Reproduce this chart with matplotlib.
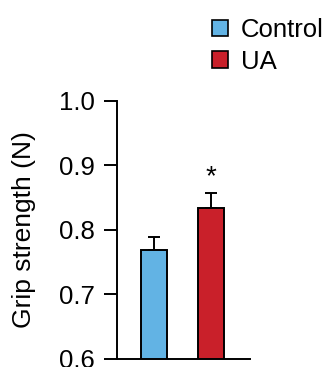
import matplotlib
matplotlib.use("Agg")
import matplotlib.pyplot as plt
from matplotlib.patches import Patch

# Dane
groups = ['Control', 'UA']
means = [0.769, 0.834]
errors = [0.020, 0.023]
colors = ['#62b3e4', '#c9202a']
y_ticks = [0.6, 0.7, 0.8, 0.9, 1.0]

plt.rcParams['font.family'] = ['Liberation Sans', 'DejaVu Sans']

fig = plt.figure(figsize=(3.32, 3.67), dpi=100)
ax = fig.add_axes([0.351, 0.0218, 0.402, 0.703])

x = [0, 1]
ax.bar(x, means, width=0.456, color=colors, edgecolor='black', linewidth=1.4, zorder=2)
ax.errorbar(x, means, yerr=[[0, 0], errors], fmt='none', ecolor='black',
            elinewidth=1.4, capsize=4.3, capthick=1.4, zorder=1)

# gwiazdka istotnosci
ax.text(1, means[1] + errors[1] + 0.004, '*', ha='center', va='bottom', fontsize=20)

ax.set_xlim(-0.658, 1.684)
ax.set_ylim(0.6, 1.0)
ax.set_yticks(y_ticks)
ax.set_yticklabels(['%.1f' % v for v in y_ticks], fontsize=18.5)
ax.set_xticks([])
ax.set_ylabel('Grip strength (N)', fontsize=19)
ax.yaxis.set_label_coords(-0.6, 0.5)

ax.spines['top'].set_visible(False)
ax.spines['right'].set_visible(False)
ax.spines['left'].set_linewidth(1.4)
ax.spines['bottom'].set_linewidth(1.4)
ax.tick_params(axis='y', length=9.4, width=1.4, pad=6)

handles = [Patch(facecolor=c, edgecolor='black', linewidth=1.2) for c in colors]
fig.legend(handles, groups, loc='upper left', bbox_to_anchor=(0.60, 0.986),
           frameon=False, fontsize=18.5, handlelength=0.62, handleheight=0.62,
           handletextpad=0.5, labelspacing=0.3, borderaxespad=0.1)

fig.savefig('out.png', dpi=100)
